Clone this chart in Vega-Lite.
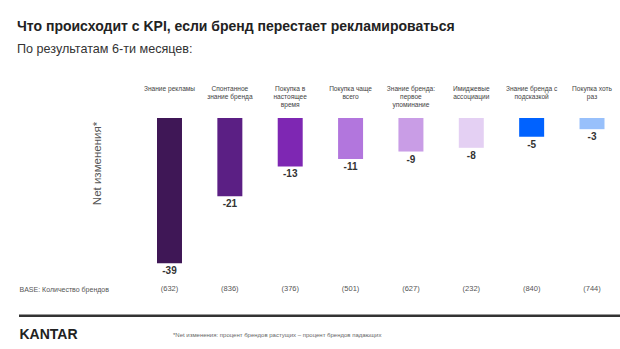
{
  "$schema": "https://vega.github.io/schema/vega-lite/v6.json",
  "width": 601,
  "height": 231,
  "autosize": {"type": "none"},
  "padding": {"left": 19, "top": 118, "right": 0, "bottom": 0},
  "background": "white",
  "config": {"view": {"stroke": null}, "font": "Liberation Sans"},
  "title": {
    "text": "Что происходит с KPI, если бренд перестает рекламироваться",
    "subtitle": "По результатам 6-ти месяцев:",
    "anchor": "start",
    "frame": "group",
    "dx": -2,
    "offset": 29,
    "fontSize": 14,
    "fontWeight": "bold",
    "color": "#222222",
    "subtitleFontSize": 12.6,
    "subtitleColor": "#333333",
    "subtitlePadding": 9
  },
  "data": {
    "values": [
      {"kpi": "Знание рекламы", "value": -39, "base": 632},
      {"kpi": "Спонтанное|знание бренда", "value": -21, "base": 836},
      {"kpi": "Покупка в|настоящее|время", "value": -13, "base": 376},
      {"kpi": "Покупка чаще|всего", "value": -11, "base": 501},
      {"kpi": "Знание бренда:|первое|упоминание", "value": -9, "base": 627},
      {"kpi": "Имиджевые|ассоциации", "value": -8, "base": 232},
      {"kpi": "Знание бренда с|подсказкой", "value": -5, "base": 840},
      {"kpi": "Покупка хоть|раз", "value": -3, "base": 744}
    ]
  },
  "transform": [{"calculate": "'(' + datum.base + ')'", "as": "base_label"}],
  "layer": [
    {
      "mark": {"type": "bar"},
      "encoding": {
        "x": {
          "field": "kpi", "type": "nominal", "sort": null,
          "scale": {"paddingInner": 0.586, "paddingOuter": 0, "range": [138, 585.5]},
          "axis": {
            "orient": "top", "title": null, "domain": false, "ticks": false,
            "labelAngle": 0, "labelBaseline": "top", "labelAlign": "center",
            "labelPadding": 33, "labelFontSize": 6.6, "labelColor": "#444444",
            "labelLineHeight": 8, "labelOverlap": false,
            "labelExpr": "split(datum.value, '|')"
          }
        },
        "y": {
          "field": "value", "type": "quantitative",
          "scale": {"domain": [-62, 0], "nice": false, "zero": false},
          "axis": {
            "orient": "left", "domain": false, "ticks": false, "grid": false,
            "values": [-45.9, -58.2],
            "labelExpr": "datum.value > -50 ? 'BASE: Количество брендов' : 'KANTAR'",
            "labelAlign": "left", "labelBaseline": "middle", "labelPadding": 0,
            "labelFontSize": {"condition": {"test": "datum.value < -50", "value": 14}, "value": 7}, 
            "labelFontWeight": {"condition": {"test": "datum.value < -50", "value": "bold"}, "value": "normal"},
            "labelColor": {"condition": {"test": "datum.value < -50", "value": "#222222"}, "value": "#555555"},
            "title": "Net изменения*",
            "titleFontSize": 11.5, "titleFontWeight": "normal", "titleColor": "#555555",
            "titleAngle": -90, "titleAlign": "center", "titleBaseline": "middle",
            "titleX": 78, "titleY": 45
          }
        },
        "color": {
          "field": "kpi", "type": "nominal", "legend": null,
          "scale": {
            "domain": ["Знание рекламы", "Спонтанное|знание бренда", "Покупка в|настоящее|время", "Покупка чаще|всего", "Знание бренда:|первое|упоминание", "Имиджевые|ассоциации", "Знание бренда с|подсказкой", "Покупка хоть|раз"],
            "range": ["#3f1756", "#5b1f84", "#7e27b3", "#b276dd", "#c99de6", "#e4d0f3", "#0062ff", "#98c0fb"]
          }
        }
      }
    },
    {
      "mark": {"type": "text", "baseline": "top", "dy": 3, "fontWeight": "bold", "fontSize": 10, "color": "#333333"},
      "encoding": {
        "x": {"field": "kpi", "type": "nominal", "sort": null},
        "y": {"field": "value", "type": "quantitative"},
        "text": {"field": "value", "type": "nominal"}
      }
    },
    {
      "mark": {"type": "text", "baseline": "middle", "fontSize": 7.5, "color": "#555555"},
      "encoding": {
        "x": {"field": "kpi", "type": "nominal", "sort": null},
        "y": {"datum": -45.9},
        "text": {"field": "base_label"}
      }
    },
    {
      "data": {"values": [{"note": "*Net изменения: процент брендов растущих – процент брендов падающих"}]},
      "mark": {"type": "rule", "strokeWidth": 2.5, "color": "#333333"},
      "encoding": {"y": {"datum": -53.1}}
    },
    {
      "data": {"values": [{"note": "*Net изменения: процент брендов растущих – процент брендов падающих"}]},
      "mark": {"type": "text", "align": "left", "baseline": "middle", "fontSize": 6, "color": "#666666", "dx": 3.5},
      "encoding": {
        "x": {"datum": "Знание рекламы"},
        "y": {"datum": -58.2},
        "text": {"field": "note"}
      }
    }
  ]
}
